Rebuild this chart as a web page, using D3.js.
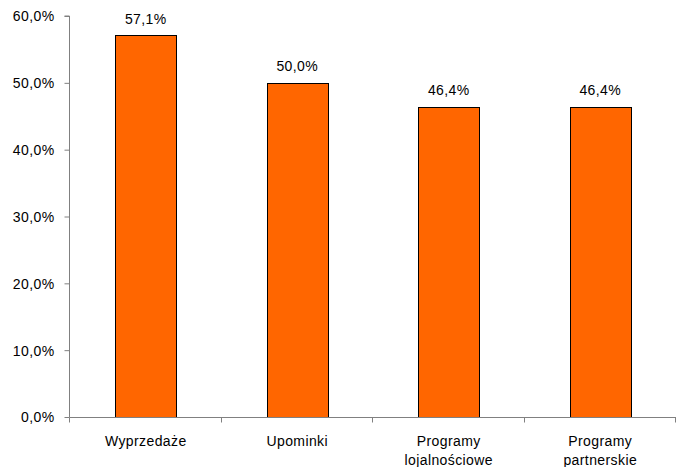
<!DOCTYPE html>
<html>
<head>
<meta charset="utf-8">
<script src="https://cdn.jsdelivr.net/npm/d3@7"></script>
<style>
  body { margin: 0; background: #fff; }
  svg text { font-family: "Liberation Sans", Arial, sans-serif; font-size: 14px; letter-spacing: 0.4px; fill: #000; }
</style>
</head>
<body>
<svg width="678" height="467"></svg>
<script>
// Data
const categories = ['Wyprzedaże', 'Upominki', 'Programy lojalnościowe', 'Programy partnerskie'];
const categoryLines = [['Wyprzedaże'], ['Upominki'], ['Programy', 'lojalnościowe'], ['Programy', 'partnerskie']];
const values = [57.1, 50.0, 46.4, 46.4];
const yTicks = [0, 10, 20, 30, 40, 50, 60];

const fmt = (v) => v.toFixed(1).replace('.', ',') + '%';

const margin = { top: 16, right: 2, bottom: 50, left: 70 };
const width = 678, height = 467;

const svg = d3.select('svg');

let x = d3.scaleBand()
    .domain(categories)
    .range([margin.left, width - margin.right])
    .paddingInner(0.6)
    .paddingOuter(0.3);

let y = d3.scaleLinear()
    .domain([0, 60])
    .range([height - margin.bottom, margin.top]);

// bars
svg.append('g')
    .selectAll('rect')
    .data(values)
    .join('rect')
    .attr('x', (d, i) => Math.round(x(categories[i])) + 0.5)
    .attr('y', (d) => Math.round(y(d)) + 0.5)
    .attr('width', Math.round(x.bandwidth()))
    .attr('height', (d) => Math.round(y(0)) - Math.round(y(d)))
    .attr('fill', '#FF6600')
    .attr('stroke', '#000')
    .attr('stroke-width', 1);

// value labels
svg.append('g')
    .selectAll('text')
    .data(values)
    .join('text')
    .attr('x', (d, i) => x(categories[i]) + x.bandwidth() / 2)
    .attr('y', (d) => y(d) - 11.5)
    .attr('text-anchor', 'middle')
    .text((d) => fmt(d));

// y axis
let yAxis = svg.append('g')
    .attr('transform', `translate(${margin.left - 0.5},0)`)
    .call(d3.axisLeft(y).tickValues(yTicks).tickSize(5).tickPadding(10).tickFormat((d) => fmt(d)));
yAxis.select('.domain').attr('stroke', '#808080').attr('d', `M-5,${y(60)}H0V${y(0)}`);
yAxis.selectAll('.tick line').attr('stroke', '#808080');
yAxis.selectAll('.tick text').attr('font-size', null).attr('font-family', null).attr('dy', '0.35em');

// x axis with ticks at band edges
const edges = categories.map((c) => x(c) - x.step() * x.paddingInner() / 2)
    .concat([width - margin.right]);
edges[0] = margin.left;
let xAxis = svg.append('g')
    .attr('transform', `translate(0,${Math.round(y(0)) + 0.5})`);
xAxis.append('line')
    .attr('x1', margin.left - 0.5).attr('x2', width - margin.right)
    .attr('stroke', '#808080');
xAxis.selectAll('line.tk')
    .data(edges)
    .join('line')
    .attr('class', 'tk')
    .attr('x1', (d) => Math.round(d) - 0.5).attr('x2', (d) => Math.round(d) - 0.5)
    .attr('y1', 0).attr('y2', 5)
    .attr('stroke', '#808080');

// category labels
categoryLines.forEach((lines, i) => {
    let t = xAxis.append('text')
        .attr('text-anchor', 'middle')
        .attr('x', x(categories[i]) + x.bandwidth() / 2)
        .attr('y', 28);
    lines.forEach((ln, j) => {
        t.append('tspan')
            .attr('x', x(categories[i]) + x.bandwidth() / 2)
            .attr('dy', j === 0 ? 0 : 19)
            .text(ln);
    });
});
</script>
</body>
</html>
